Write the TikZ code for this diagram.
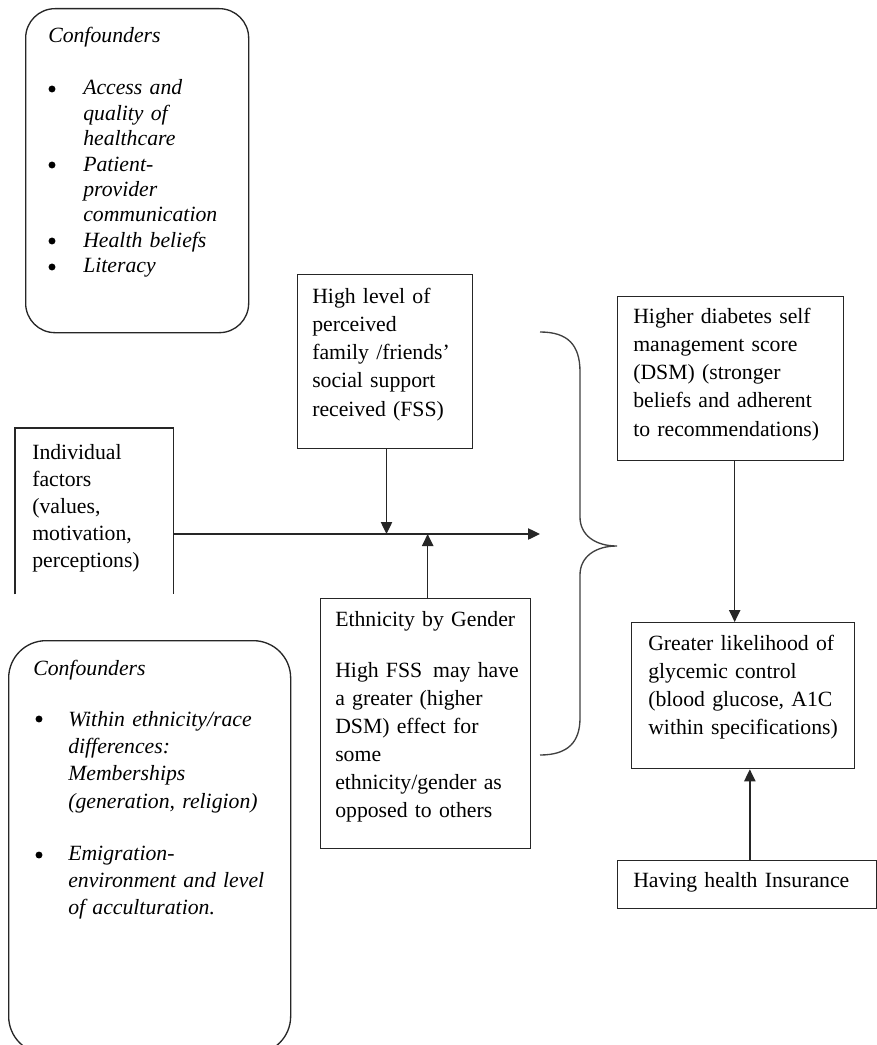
\documentclass[tikz,border=0pt]{standalone}
\usepackage{fontspec}
\setmainfont{Liberation Serif}
\usetikzlibrary{arrows.meta}
\begin{document}
\begin{tikzpicture}[x=0.75pt,y=-0.75pt,
  box/.style={draw=black!85, line width=1pt, inner sep=0pt, anchor=north west},
  rbox/.style={box, rounded corners=#1},
  txt/.style={anchor=base west, inner sep=0pt, align=left, text width=230pt,
    font=\fontsize{16.3}{21.2}\selectfont},
  itxt/.style={txt, font=\fontsize{16.3}{#1}\itshape\selectfont},
  bul/.style={circle, fill=black, inner sep=0pt, minimum size=5.2pt},
  arr/.style={draw=black!85, line width=1pt, -{Triangle[length=9pt,width=8.5pt]}},
  bracestyle/.style={draw=black!75, line width=1pt}]
\useasboundingbox (0,0) rectangle (877,1045);
\clip (0,0) rectangle (877,1045);

% boxes
\node[rbox=22pt, minimum width=167.25pt, minimum height=243pt] (conf1) at (25,8) {};
\node[rbox=28pt, minimum width=211.5pt, minimum height=309.75pt] (conf2) at (8,640) {};
\node[box, minimum width=131.25pt, minimum height=130.5pt] (fss) at (297,274) {};
\node[box, minimum width=169.5pt, minimum height=123pt] (dsm) at (617,296) {};
\node[box, minimum width=157.5pt, minimum height=187.5pt] (eth) at (320,598) {};
\node[box, minimum width=167.25pt, minimum height=109.5pt] (glyc) at (631,622) {};
\node[box, minimum width=194.25pt, minimum height=36pt] (ins) at (617,860) {};
\node[box, draw=none, minimum width=117.75pt, minimum height=123.75pt] (indiv) at (15,428) {};
\draw[draw=black!85, line width=1pt] (indiv.south west) -- (indiv.north west) -- (indiv.north east) -- (indiv.south east);

% texts
\node[itxt=19pt] (c1title) at (48,43) {Confounders};
\node[itxt=19.05pt] (c1items) at (83,95) {Access and\\quality of\\healthcare\\Patient-\\provider\\communication\\Health beliefs\\Literacy};
\node[bul] (b1) at (52,89) {};
\node[bul] (b2) at (52,165) {};
\node[bul] (b3) at (52,241) {};
\node[bul] (b4) at (52,267) {};

\node[itxt=20.5pt] (c2title) at (33,675) {Confounders};
\node[itxt=20.5pt] (c2itemA) at (68,726) {Within ethnicity/race\\differences:\\Memberships\\(generation, religion)};
\node[itxt=20.5pt] (c2itemB) at (68,860) {Emigration-\\environment and level\\of acculturation.};
\node[bul] (b5) at (39,719) {};
\node[bul] (b6) at (39,855) {};

\node[txt, font=\fontsize{16.3}{20.25}\selectfont] (indivtext) at (32,459) {Individual\\factors\\(values,\\motivation,\\perceptions)};
\node[txt] (fsstext) at (312,303) {High level of\\perceived\\family /friends’\\social support\\received (FSS)};
\node[txt] (dsmtext) at (633,323) {Higher diabetes self\\management score\\(DSM) (stronger\\beliefs and adherent\\to recommendations)};
\node[txt] (ethtitle) at (335,626) {Ethnicity by Gender};
\node[txt, font=\fontsize{16.3}{21}\selectfont] (ethtext) at (335,677) {High FSS\, may have\\a greater (higher\\DSM) effect for\\some\\ethnicity/gender as\\opposed to others};
\node[txt] (glyctext) at (648,650) {Greater likelihood of\\glycemic control\\(blood glucose, A1C\\within specifications)};
\node[txt] (instext) at (633,887) {Having health Insurance};

% connectors
\coordinate (hend) at (540,534);
\draw[arr] (indiv.east |- hend) -- (hend);
\draw[arr] ([xshift=1pt]fss.south) -- ([xshift=1pt]fss.south |- hend);
\draw[arr] ([xshift=1.5pt]eth.north) -- ([xshift=1.5pt]eth.north |- hend);
\draw[arr] ([xshift=3pt]dsm.south) -- ([xshift=3pt]dsm.south |- glyc.north);
\draw[arr] ([xshift=2pt]ins.north) -- ([xshift=2pt]ins.north |- glyc.south);

% brace
\coordinate (bracetip) at (617,546);
\draw[bracestyle] (540,332) .. controls (568,332) and (580,345) .. (580,372) -- (580,517)
  .. controls (580,535) and (595,546) .. (bracetip)
  .. controls (595,546) and (580,557) .. (580,575) -- (580,718)
  .. controls (580,742) and (568,755) .. (540,755);
\end{tikzpicture}
\end{document}
